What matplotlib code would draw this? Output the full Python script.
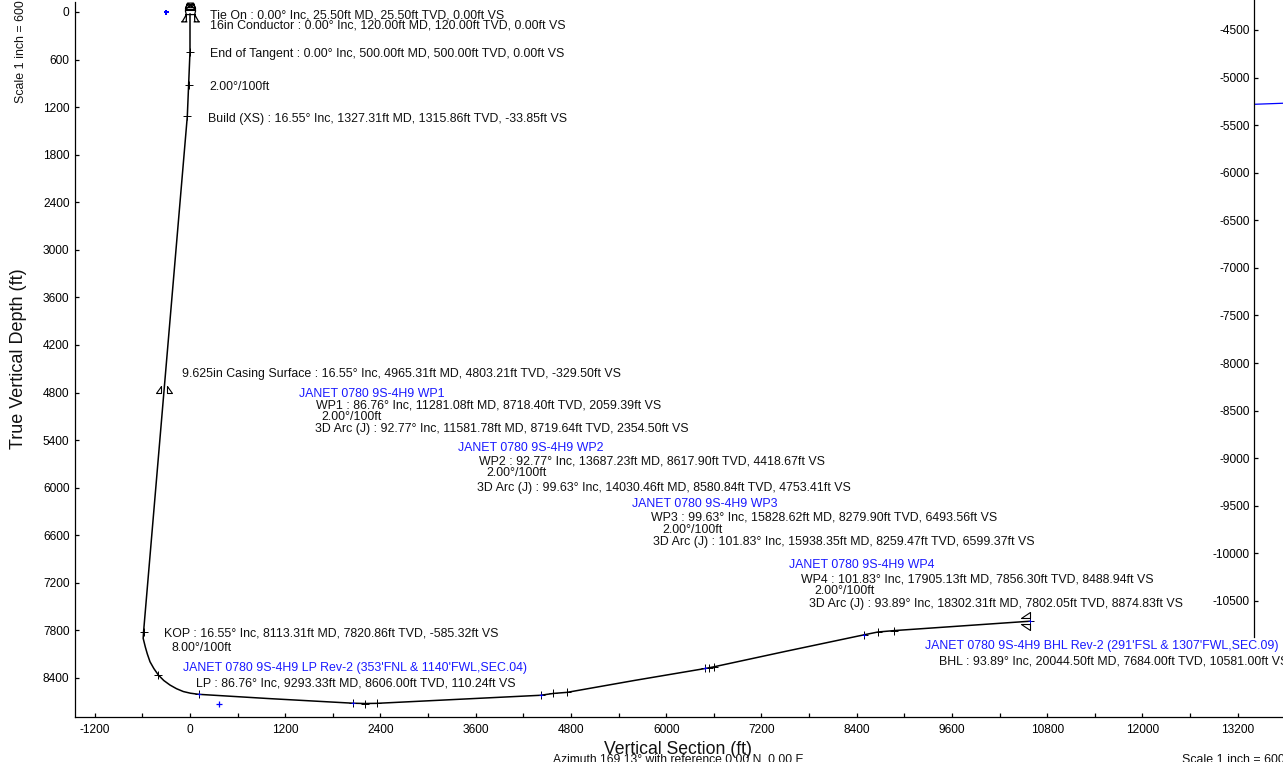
import matplotlib
matplotlib.use('Agg')
import matplotlib.pyplot as plt
from matplotlib.path import Path

plt.rcParams['font.family'] = ['Liberation Sans', 'DejaVu Sans']

W = 1283
H = 762

# wellbore section, vertical section (ft) and TVD (ft)
well_vs = [0, 0, 0, -33.85, -329.5, -585.32, -590, -563, -538, -504, -456, -399, -330, -252, -170,
           -84, 6, 110.24, 1000, 2059.39, 2207, 2354.5, 3400, 4418.67, 4577, 4753.41, 5600, 6493.56,
           6545, 6599.37, 7500, 8488.94, 8668, 8874.83, 9700, 10581]
well_tvd = [25.5, 120, 500, 1315.86, 4803.21, 7820.86, 7900, 8009, 8096, 8195, 8280, 8362, 8432, 8489,
            8535, 8571, 8592, 8606, 8660, 8718.4, 8722, 8719.64, 8668, 8617.9, 8595, 8580.84, 8431,
            8279.9, 8270, 8259.47, 8065, 7856.3, 7820, 7802.05, 7745, 7684]

# plus marks along the well
mark_vs = [0, -12, -33.85, -585.32, -399, 110.24, 2059.39, 2207, 2354.5, 4418.67, 4577, 4753.41,
           6493.56, 6545, 6599.37, 8488.94, 8668, 8874.83, 10581]
mark_tvd = [500, 920, 1315.86, 7820.86, 8362, 8606, 8718.4, 8722, 8719.64, 8617.9, 8595, 8580.84,
            8279.9, 8270, 8259.47, 7856.3, 7820, 7802.05, 7684]

# blue targets
target_vs = [110.24, 2059.39, 4418.67, 6493.56, 8488.94, 10581]
target_tvd = [8606, 8718.4, 8617.9, 8279.9, 7856.3, 7684]
surface_vs = [-302]
surface_tvd = [0]
offset_vs = [365]
offset_tvd = [8727]

# leftover of the plan view on the right
plan_x = [0, 1]
plan_y = [-5281, -5270]

x_ticks = [-1200, -600, 0, 600, 1200, 1800, 2400, 3000, 3600, 4200, 4800, 5400, 6000, 6600,
           7200, 7800, 8400, 9000, 9600, 10200, 10800, 11400, 12000, 12600, 13200]
x_labels = ['-1200', '', '0', '', '1200', '', '2400', '', '3600', '', '4800', '', '6000', '',
            '7200', '', '8400', '', '9600', '', '10800', '', '12000', '', '13200']
y_ticks = [0, 600, 1200, 1800, 2400, 3000, 3600, 4200, 4800, 5400, 6000, 6600, 7200, 7800, 8400]
right_ticks = [-4500, -5000, -5500, -6000, -6500, -7000, -7500, -8000, -8500, -9000, -9500,
               -10000, -10500]
right_labels = ['-4500', '-5000', '-5500', '-6000', '-6500', '-7000', '-7500', '-8000', '-8500',
                '-9000', '-9500', '-10000', '-10500']

M, L = Path.MOVETO, Path.LINETO


def segs(lines):
    v = []
    c = []
    for a, b in lines:
        v += [a, b]
        c += [M, L]
    return Path(v, c)


# rig symbol, units are pixels around its centre
rig = segs([((-9, -9), (-3, -9)), ((9, -9), (3, -9)), ((-8, -9), (-4, -2)), ((8, -9), (4, -2)),
            ((-4, -9), (-4, -2)), ((4, -9), (4, -2)),
            ((-5, -2), (5, -2)), ((-4, -2), (-5, 2)), ((4, -2), (5, 2)), ((-5, 2), (5, 2)),
            ((-5, 3), (5, 3)), ((-5, 5), (5, 5)), ((-5, 3), (-3, 9)), ((5, 3), (3, 9)),
            ((-3, 9), (3, 9)), ((-5, 3), (3, 9)), ((5, 3), (-3, 9)), ((-4, 7), (4, 7))])
shoe_side = Path([(3, 7), (3, 0), (8, 0), (3, 7), (-3, 7), (-3, 0), (-8, 0), (-3, 7)],
                 [M, L, L, L, M, L, L, L])
shoe_end = Path([(0, 3), (-9, 3), (0, 9), (0, 3), (0, -3), (-9, -3), (0, -9), (0, -3)],
                [M, L, L, L, M, L, L, L])

fig = plt.figure(figsize=(W / 100, H / 100), dpi=100)
ax = fig.add_axes([75 / W, 1 - 717 / H, (W - 75) / W, 715 / H])
ax.set_xlim(-1449, 13772)
ax.set_ylim(8892, -126)
for s in ['top', 'right']:
    ax.spines[s].set_visible(False)
for s in ['left', 'bottom']:
    ax.spines[s].set_linewidth(0.9)
ax.set_xticks(x_ticks)
ax.set_xticklabels(x_labels)
ax.set_yticks(y_ticks)
ax.tick_params(axis='x', direction='in', length=3, width=0.9, labelsize=8.6, pad=5)
ax.tick_params(axis='y', direction='in', length=3, width=0.9, labelsize=8.6, pad=4)

ax.plot(well_vs, well_tvd, color='black', lw=1.1, clip_on=False)
ax.plot(mark_vs, mark_tvd, ls='none', marker='+', color='black', ms=5.5, mew=0.7)
ax.plot(target_vs, target_tvd, ls='none', marker='+', color='#0000ff', ms=3, mew=0.6)
ax.plot(surface_vs, surface_tvd, ls='none', marker='P', color='#0000ff', ms=3.6, mew=0)
ax.plot(offset_vs, offset_tvd, ls='none', marker='+', color='#0000ff', ms=3.8, mew=0.9)
ax.plot([0], [0], ls='none', marker=rig, ms=13.5, mfc='none', mec='black', mew=0.9, clip_on=False)
ax.plot([-329.5], [4803.21], ls='none', marker=shoe_side, ms=11.5, mfc='none', mec='black', mew=0.8)
ax.plot([10581], [7684], ls='none', marker=shoe_end, ms=13, mfc='none', mec='black', mew=0.8)

# right hand axis
ax2 = fig.add_axes([1254 / W, 1 - 637 / H, 29 / W, 637 / H])
ax2.patch.set_visible(False)
ax2.set_xlim(0, 1)
ax2.set_ylim(-10879, -4185)
for s in ['top', 'right', 'bottom']:
    ax2.spines[s].set_visible(False)
ax2.spines['left'].set_linewidth(0.9)
ax2.set_xticks([])
ax2.set_yticks(right_ticks)
ax2.set_yticklabels(right_labels)
ax2.tick_params(axis='y', direction='in', length=3, width=0.9, labelsize=8.6, pad=3)
ax2.plot(plan_x, plan_y, color='#0000ff', lw=0.9)


def txt(s, x, y, color='#111111', size=8.9, **kw):
    kw.setdefault('ha', 'left')
    kw.setdefault('va', 'center')
    fig.text(x / W, 1 - y / H, s, color=color, fontsize=size, **kw)


BLUE = '#1a1aff'
txt('Tie On : 0.00° Inc, 25.50ft MD, 25.50ft TVD, 0.00ft VS', 210, 16)
txt('16in Conductor : 0.00° Inc, 120.00ft MD, 120.00ft TVD, 0.00ft VS', 210, 26)
txt('End of Tangent : 0.00° Inc, 500.00ft MD, 500.00ft TVD, 0.00ft VS', 210, 53.5)
txt('2.00°/100ft', 209, 87)
txt('Build (XS) : 16.55° Inc, 1327.31ft MD, 1315.86ft TVD, -33.85ft VS', 207.5, 119)
txt('9.625in Casing Surface : 16.55° Inc, 4965.31ft MD, 4803.21ft TVD, -329.50ft VS', 181.5, 374)

txt('JANET 0780 9S-4H9 WP1', 299, 394, BLUE)
txt('WP1 : 86.76° Inc, 11281.08ft MD, 8718.40ft TVD, 2059.39ft VS', 316, 406)
txt('2.00°/100ft', 321, 417)
txt('3D Arc (J) : 92.77° Inc, 11581.78ft MD, 8719.64ft TVD, 2354.50ft VS', 315, 429)

txt('JANET 0780 9S-4H9 WP2', 458, 448.5, BLUE)
txt('WP2 : 92.77° Inc, 13687.23ft MD, 8617.90ft TVD, 4418.67ft VS', 479, 461)
txt('2.00°/100ft', 486, 473)
txt('3D Arc (J) : 99.63° Inc, 14030.46ft MD, 8580.84ft TVD, 4753.41ft VS', 477, 488)

txt('JANET 0780 9S-4H9 WP3', 632, 504, BLUE)
txt('WP3 : 99.63° Inc, 15828.62ft MD, 8279.90ft TVD, 6493.56ft VS', 651, 518)
txt('2.00°/100ft', 662, 530)
txt('3D Arc (J) : 101.83° Inc, 15938.35ft MD, 8259.47ft TVD, 6599.37ft VS', 653, 542)

txt('JANET 0780 9S-4H9 WP4', 789, 565, BLUE)
txt('WP4 : 101.83° Inc, 17905.13ft MD, 7856.30ft TVD, 8488.94ft VS', 801, 579)
txt('2.00°/100ft', 814, 591)
txt('3D Arc (J) : 93.89° Inc, 18302.31ft MD, 7802.05ft TVD, 8874.83ft VS', 809, 604)

txt('KOP : 16.55° Inc, 8113.31ft MD, 7820.86ft TVD, -585.32ft VS', 164, 634)
txt('8.00°/100ft', 171, 648)
txt("JANET 0780 9S-4H9 LP Rev-2 (353'FNL & 1140'FWL,SEC.04)", 183, 668, BLUE)
txt('LP : 86.76° Inc, 9293.33ft MD, 8606.00ft TVD, 110.24ft VS', 196, 683)
txt("JANET 0780 9S-4H9 BHL Rev-2 (291'FSL & 1307'FWL,SEC.09)", 925, 646, BLUE)
txt('BHL : 93.89° Inc, 20044.50ft MD, 7684.00ft TVD, 10581.00ft VS', 939, 662)

txt('Vertical Section (ft)', 678, 749.5, size=12.7, ha='center')
txt('Azimuth 169.13° with reference 0.00 N, 0.00 E', 678.5, 759, ha='center', size=8.75)
txt('Scale 1 inch = 600 ft', 1182, 760)
txt('True Vertical Depth (ft)', 18.5, 359, size=13, ha='center', rotation=90)
txt('Scale 1 inch = 600 ft', 21, 103, rotation=90, ha='center', va='bottom')

fig.savefig('out.png', dpi=100)
